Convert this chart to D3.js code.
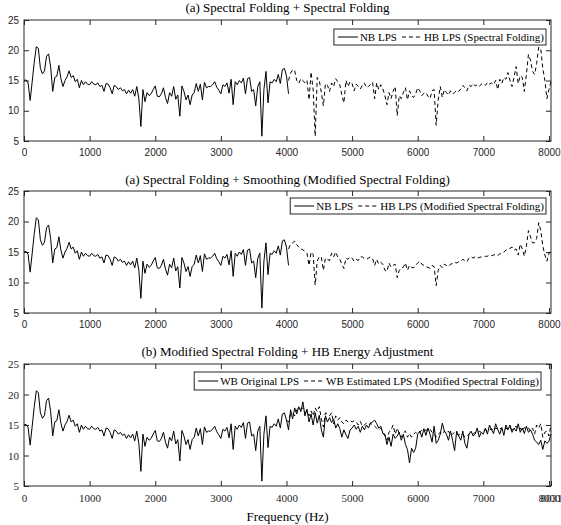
<!DOCTYPE html>
<html>
<head>
<meta charset="utf-8">
<script src="https://cdn.jsdelivr.net/npm/d3@7/dist/d3.min.js"></script>
<style>
  body { margin: 0; background: #fff; }
</style>
</head>
<body>
<svg id="chart"></svg>
<script>
'use strict';

// bin spacing of the LPS (Hz); value i sits at i * binHz
var binHz = 31.25;
var xTickValues = [0, 1000, 2000, 3000, 4000, 5000, 6000, 7000, 8000];
var yTickValues = [5, 10, 15, 20, 25];

// NB LPS, bins 0..129 (0 - 4031 Hz), shared by all three panels
var nbLps = [
  15.0, 15.1, 14.6, 11.7, 14.8, 18.0, 20.6, 20.3,
  17.0, 16.1, 16.6, 19.0, 19.4, 17.2, 13.2, 15.5,
  15.7, 17.5, 15.3, 14.0, 15.0, 15.6, 16.6, 15.5,
  15.8, 14.8, 15.2, 13.8, 15.0, 14.3, 14.8, 14.4,
  14.3, 14.8, 14.4, 14.3, 14.6, 14.0, 14.2, 13.2,
  14.5, 14.4, 13.8, 12.8, 14.2, 14.0, 13.5, 13.8,
  13.3, 13.5, 12.8, 13.4, 12.9, 13.5, 12.4, 14.0,
  12.0, 7.4, 13.5, 11.5, 13.0, 12.5, 12.8, 13.5,
  14.1, 12.4, 12.3, 12.8, 13.8, 12.2, 11.2, 13.0,
  12.4, 14.0, 11.9, 12.6, 9.1, 14.1, 13.2, 11.8,
  12.6, 11.0, 12.6, 13.0, 14.5, 13.2, 14.4, 11.8,
  14.7, 13.8, 14.0, 14.0, 14.3, 14.8, 13.9, 13.4,
  12.8, 14.3, 14.0, 14.6, 12.9, 15.2, 11.0, 14.8,
  14.3, 15.0, 14.6, 15.4, 12.8, 15.3, 15.5, 13.2,
  13.5, 10.8, 14.0, 14.8, 5.8, 13.5, 16.5, 11.3,
  14.8, 14.6, 15.2, 14.8, 16.0, 14.5, 16.8, 17.0,
  15.8, 12.8
];

// high band, bins 129..257 (4031 - 8031 Hz)
var hbSpectralFolding = [
  15.0, 16.2, 16.8, 16.6, 15.0, 14.5, 15.3, 15.0,
  14.6, 15.0, 11.8, 16.4, 13.5, 5.8, 15.5, 15.0,
  13.0, 10.8, 14.5, 14.2, 13.2, 14.6, 14.0, 15.3,
  14.8, 14.3, 12.6, 11.3, 15.0, 14.0, 14.8, 14.5,
  13.3, 14.4, 14.0, 13.6, 14.2, 14.6, 13.8, 14.0,
  14.4, 14.7, 12.0, 14.6, 13.5, 14.3, 13.6, 12.5,
  11.0, 13.0, 12.0, 13.2, 14.0, 9.2, 12.5, 12.0,
  13.0, 13.8, 11.8, 13.3, 12.5, 12.2, 12.8, 13.8,
  13.3, 12.5, 12.9, 13.0, 12.4, 12.0, 13.3, 13.5,
  7.6, 11.8, 14.0, 12.2, 13.5, 13.0, 12.6, 13.3,
  12.8, 13.0, 13.4, 13.2, 13.6, 14.2, 13.8, 13.3,
  14.2, 14.0, 14.5, 14.1, 14.3, 14.0, 14.4, 14.5,
  14.2, 14.7, 14.4, 14.6, 14.3, 15.0, 13.5, 15.2,
  14.5, 15.5, 15.2, 16.3, 15.0, 14.0, 15.6, 17.3,
  14.5, 15.8, 15.5, 13.2, 16.0, 19.3, 18.4, 16.5,
  16.0, 17.8, 20.5, 20.3, 17.0, 15.0, 12.0, 13.5,
  14.8
];

var hbModifiedFolding = [
  15.5, 16.3, 16.5, 16.8, 16.2, 15.8, 15.5, 15.4,
  15.0, 14.8, 12.8, 15.0, 14.6, 9.6, 13.5, 14.2,
  14.2, 12.0, 14.0, 13.8, 13.6, 14.8, 14.2, 15.0,
  14.2, 13.8, 13.0, 12.3, 14.0, 13.8, 14.2, 14.0,
  13.5, 13.8, 13.6, 14.2, 14.2, 13.9, 13.8, 14.0,
  14.2, 13.9, 12.8, 13.8, 13.0, 13.3, 13.0, 12.0,
  11.8, 13.2, 12.5, 12.8, 13.0, 10.8, 12.0, 12.4,
  12.5, 13.2, 12.0, 12.8, 12.5, 12.4, 12.8, 13.2,
  13.5, 13.0, 12.8, 12.6, 12.5, 12.3, 12.8, 12.6,
  9.5, 12.0, 12.8, 12.4, 13.0, 12.8, 12.6, 13.0,
  13.1, 13.3, 13.2, 13.4, 13.5, 13.8, 13.6, 13.4,
  14.0, 14.2, 14.0, 14.2, 14.0, 14.1, 14.2, 14.2,
  14.3, 14.3, 14.5, 14.4, 14.5, 14.6, 14.4, 14.7,
  14.8, 15.0, 15.3, 15.5, 15.6, 15.8, 15.3, 15.5,
  14.5, 16.3, 15.5, 14.3, 16.0, 18.5, 17.5, 16.5,
  16.5, 17.2, 19.8, 18.5, 16.0, 14.5, 13.5, 14.8,
  15.0
];

var wbOriginalHigh = [
  14.2, 17.5, 16.0, 17.8, 16.8, 18.0, 17.2, 18.8,
  16.5, 17.6, 15.5, 16.8, 15.0, 17.0, 15.3, 16.6,
  14.2, 13.0, 16.5, 15.5, 16.2, 15.4, 16.0, 14.5,
  15.2, 14.4, 13.0, 14.2, 13.4, 12.8, 14.2, 14.5,
  15.0, 14.3, 14.8, 13.8, 14.8, 14.2, 15.0, 14.5,
  15.3, 15.5, 15.8, 15.2, 14.5, 14.8, 13.6, 13.5,
  11.8, 13.0, 11.5, 13.5, 12.8, 13.2, 13.8, 12.5,
  13.5, 11.8, 11.0, 8.8, 11.2, 10.5, 11.2, 13.5,
  14.0, 13.0, 14.4, 13.3, 14.5, 13.5, 12.2, 14.8,
  12.0, 12.5, 13.5, 15.3, 14.0, 13.5, 12.5, 14.0,
  12.5, 10.8, 14.0, 13.2, 12.5, 14.0, 12.0, 11.2,
  13.5, 14.0, 13.2, 13.5, 14.5, 13.0, 13.8, 13.5,
  14.5, 13.5, 15.0, 14.2, 13.6, 15.2, 14.3, 13.5,
  14.6, 13.3, 15.0, 14.2, 15.0, 13.8, 14.5, 14.0,
  15.2, 13.8, 14.5, 13.6, 14.8, 13.8, 14.2, 13.5,
  12.5, 12.2, 11.8, 12.5, 11.0, 12.4, 12.0, 12.3,
  13.5
];

var wbEstimatedHigh = [
  15.5, 16.8, 17.0, 16.5, 17.5, 17.8, 17.6, 17.8,
  17.0, 17.3, 16.5, 17.3, 16.5, 17.8, 17.2, 18.0,
  16.0, 14.7, 17.0, 16.8, 16.5, 17.0, 15.2, 16.5,
  15.8, 16.2, 15.5, 15.2, 15.8, 15.5, 15.7, 15.5,
  15.7, 15.5, 15.0, 15.6, 14.8, 15.0, 15.3, 15.0,
  15.3, 15.0, 14.8, 14.5, 14.2, 14.5, 13.8, 13.2,
  12.5, 13.8, 14.2, 15.0, 13.5, 14.5, 13.6, 13.0,
  13.7, 14.0, 13.0, 13.6, 13.0, 13.5, 13.8, 13.5,
  13.8, 14.2, 14.0, 14.2, 14.0, 14.3, 13.8, 13.5,
  13.0, 13.5, 13.8, 13.5, 14.0, 13.6, 14.0, 13.3,
  13.5, 13.8, 13.5, 13.3, 13.6, 13.5, 13.0, 13.2,
  13.5, 13.8, 13.5, 13.8, 13.6, 14.0, 13.8, 14.0,
  14.2, 14.0, 14.2, 14.4, 14.0, 14.5, 14.3, 14.5,
  14.3, 14.0, 14.5, 14.3, 14.6, 14.2, 14.5, 14.8,
  14.2, 14.5, 14.0, 14.6, 14.3, 14.5, 14.0, 14.5,
  13.5, 15.0, 14.5, 15.2, 13.0, 13.8, 14.0, 13.2,
  15.0
];

var hbStart = 129;
var xMax = 8031.25;
// the bottom panel also labels the last bin, which runs into "8000"
var extraTickLabel = '8031';

// chart area
var canvasWidth = 561;
var canvasHeight = 525;
var plotLeft = 24;
var plotRight = 551;
var axisColor = '#262626';
var serif = '"Liberation Serif", "Times New Roman", serif';
var sans = '"Liberation Sans", Arial, sans-serif';

var svg = d3.select('#chart')
    .attr('width', canvasWidth)
    .attr('height', canvasHeight);
svg.append('rect')
    .attr('width', canvasWidth)
    .attr('height', canvasHeight)
    .attr('fill', '#fff');

var xScale = d3.scaleLinear().domain([0, xMax]).range([plotLeft, plotRight]);

var panels = [
  {
    top: 20, bottom: 141, titleY: 12,
    title: '(a) Spectral Folding + Spectral Folding',
    tickFont: sans, tickFontSize: 10,
    legendRight: 546, legendTop: 29, legendHeight: 16,
    legend: ['NB LPS', 'HB LPS (Spectral Folding)'],
    series: [
      {values: nbLps, start: 0, dash: null},
      {values: hbSpectralFolding, start: hbStart, dash: '4,3'}
    ]
  },
  {
    top: 191, bottom: 313, titleY: 184,
    title: '(a) Spectral Folding + Smoothing (Modified Spectral Folding)',
    tickFont: sans, tickFontSize: 10,
    legendRight: 546, legendTop: 198, legendHeight: 16,
    legend: ['NB LPS', 'HB LPS (Modified Spectral Folding)'],
    series: [
      {values: nbLps, start: 0, dash: null},
      {values: hbModifiedFolding, start: hbStart, dash: '4,3'}
    ]
  },
  {
    top: 364, bottom: 486, titleY: 356,
    title: '(b) Modified Spectral Folding + HB Energy Adjustment',
    tickFont: serif, tickFontSize: 11,
    legendRight: 541, legendTop: 372, legendHeight: 18,
    legend: ['WB Original LPS', 'WB Estimated LPS (Modified Spectral Folding)'],
    series: [
      {values: nbLps.slice(0, hbStart).concat(wbOriginalHigh), start: 0, dash: null},
      {values: [nbLps[hbStart - 1]].concat(wbEstimatedHigh), start: hbStart - 1, dash: '4,3'}
    ],
    endTick: true,
    xLabel: 'Frequency (Hz)'
  }
];

panels.forEach(function(p) {
  var yScale = d3.scaleLinear().domain([5, 25]).range([p.bottom, p.top]);
  var g = svg.append('g');

  var ticks = p.endTick ? xTickValues.concat([xMax]) : xTickValues;
  var fmt = function(d) { return d === xMax ? extraTickLabel : d3.format('d')(d); };

  // axes, MATLAB style: ticks inside, box all round
  var bottomAxis = g.append('g')
      .attr('transform', 'translate(0,' + p.bottom + ')')
      .call(d3.axisBottom(xScale).tickValues(ticks).tickSize(-5).tickPadding(8)
          .tickFormat(fmt));
  g.append('g')
      .attr('transform', 'translate(0,' + p.top + ')')
      .call(d3.axisTop(xScale).tickValues(ticks).tickSize(-5).tickFormat(''));
  var leftAxis = g.append('g')
      .attr('transform', 'translate(' + plotLeft + ',0)')
      .call(d3.axisLeft(yScale).tickValues(yTickValues).tickSize(-5).tickPadding(5));
  g.append('g')
      .attr('transform', 'translate(' + plotRight + ',0)')
      .call(d3.axisRight(yScale).tickValues(yTickValues).tickSize(-5).tickFormat(''));

  g.selectAll('.domain').remove();
  g.selectAll('.tick line').attr('stroke', axisColor);
  [bottomAxis, leftAxis].forEach(function(a) {
    a.selectAll('text')
        .attr('fill', axisColor)
        .style('font-family', p.tickFont)
        .style('font-size', p.tickFontSize + 'px');
  });

  // lines
  p.series.forEach(function(s) {
    var line = d3.line()
        .x(function(d, i) { return xScale((s.start + i) * binHz); })
        .y(function(d) { return yScale(d); });
    g.append('path')
        .datum(s.values)
        .attr('d', line)
        .attr('fill', 'none')
        .attr('stroke', '#000')
        .attr('stroke-width', 1)
        .attr('stroke-dasharray', s.dash);
  });

  g.append('rect')
      .attr('x', plotLeft)
      .attr('y', p.top)
      .attr('width', plotRight - plotLeft)
      .attr('height', p.bottom - p.top)
      .attr('fill', 'none')
      .attr('stroke', axisColor)
      .attr('stroke-width', 1);

  // title
  g.append('text')
      .attr('x', (plotLeft + plotRight) / 2)
      .attr('y', p.titleY)
      .attr('text-anchor', 'middle')
      .style('font-family', serif)
      .style('font-size', '13px')
      .attr('fill', '#000')
      .text(p.title);

  // legend, right aligned in the corner
  var lg = g.append('g');
  var box = lg.append('rect');
  var sampleLen = 20;
  var cursor = 0;
  var baseline = p.legendTop + p.legendHeight / 2 + 4;
  p.legend.forEach(function(label, k) {
    var sy = p.legendTop + p.legendHeight / 2;
    lg.append('line')
        .attr('x1', cursor + 4).attr('x2', cursor + 4 + sampleLen)
        .attr('y1', sy).attr('y2', sy)
        .attr('stroke', '#000')
        .attr('stroke-width', 1)
        .attr('stroke-dasharray', p.series[k].dash);
    var t = lg.append('text')
        .attr('x', cursor + 6 + sampleLen)
        .attr('y', baseline)
        .style('font-family', serif)
        .style('font-size', '11px')
        .attr('fill', '#000')
        .text(label);
    cursor += 6 + sampleLen + t.node().getComputedTextLength() + 1;
  });
  var legendLeft = p.legendRight - cursor - 1;
  box.attr('x', 0).attr('y', p.legendTop)
      .attr('width', cursor + 1).attr('height', p.legendHeight)
      .attr('fill', '#fff')
      .attr('stroke', axisColor)
      .attr('stroke-width', 1);
  lg.attr('transform', 'translate(' + legendLeft + ',0)');

  if (p.xLabel) {
    g.append('text')
        .attr('x', (plotLeft + plotRight) / 2)
        .attr('y', 521)
        .attr('text-anchor', 'middle')
        .style('font-family', serif)
        .style('font-size', '13px')
        .attr('fill', '#000')
        .text(p.xLabel);
  }
});
</script>
</body>
</html>
